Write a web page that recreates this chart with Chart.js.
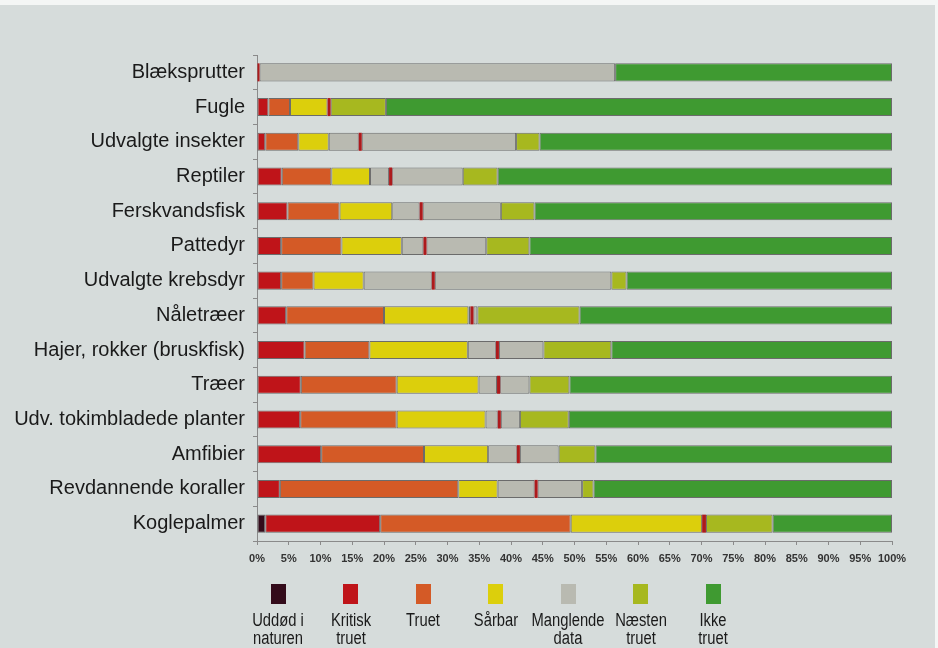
<!DOCTYPE html>
<html>
<head>
<meta charset="utf-8">
<script src="https://cdn.jsdelivr.net/npm/chart.js@4/dist/chart.umd.min.js"></script>
<style>
    html, body { margin: 0; padding: 0; background: #f4f6f5; }
    #page { position: absolute; left: 0; top: 5px; width: 935px; height: 643px; background: #d6dcdb; }
    #wrap { position: absolute; left: 0; top: 0; width: 938px; height: 648px; }
    #legend { position: absolute; left: 0; top: 0; width: 938px; height: 648px; pointer-events: none; }
    .item { position: absolute; top: 584px; width: 110px; margin-left: -55px; text-align: center;
            font-family: 'Liberation Sans', Arial, sans-serif; font-size: 18px; line-height: 18px; color: #1a1a1a; }
    .item .txt { transform: scaleX(0.82); }
    .box { width: 15px; height: 20px; margin: 0 auto 7px auto; }
</style>
</head>
<body>
<div id="page"></div>
<div id="wrap"><canvas id="chart" width="938" height="648"></canvas></div>
<div id="legend"></div>
<script>
    // Kategorier (oppefra og ned)
    const categories = [
        'Blæksprutter', 'Fugle', 'Udvalgte insekter', 'Reptiler', 'Ferskvandsfisk', 'Pattedyr',
        'Udvalgte krebsdyr', 'Nåletræer', 'Hajer, rokker (bruskfisk)', 'Træer',
        'Udv. tokimbladede planter', 'Amfibier', 'Revdannende koraller', 'Koglepalmer'
    ];

    // Andele i procent for hvert segment
    const uddoed     = [0, 0, 0, 0, 0, 0, 0, 0, 0, 0, 0, 0, 0, 1.3];
    const kritisk    = [0, 1.8, 1.3, 3.9, 4.8, 3.8, 3.8, 4.6, 7.5, 6.9, 6.8, 10.1, 3.6, 18.1];
    const truet      = [0, 3.4, 5.2, 7.8, 8.2, 9.5, 5.1, 15.4, 10.2, 15.1, 15.2, 16.2, 28.1, 30.0];
    const saarbar    = [0, 5.9, 4.8, 6.1, 8.3, 9.5, 7.9, 13.3, 15.5, 12.9, 14.0, 10.1, 6.2, 20.7];
    const mangler1   = [0, 0, 4.7, 3.0, 4.3, 3.4, 10.7, 0.3, 4.4, 2.9, 1.9, 4.5, 5.8, 0];
    const markoer    = [0.4, 0.5, 0.5, 0.5, 0.5, 0.5, 0.5, 0.5, 0.5, 0.5, 0.5, 0.5, 0.5, 0.6];
    const mangler2   = [56.0, 0, 24.3, 11.1, 12.3, 9.4, 27.8, 0.6, 7.0, 4.6, 3.0, 6.1, 7.0, 0];
    const naesten    = [0, 8.7, 3.7, 5.5, 5.3, 6.8, 2.4, 16.1, 10.7, 6.3, 7.7, 5.8, 1.8, 10.5];
    const ikke       = [43.6, 79.7, 55.5, 62.1, 56.3, 57.1, 41.8, 49.2, 44.2, 50.8, 50.9, 46.7, 47.0, 18.8];

    const xTicks = [0, 5, 10, 15, 20, 25, 30, 35, 40, 45, 50, 55, 60, 65, 70, 75, 80, 85, 90, 95, 100];

    const legendLabels = ['Uddød i\nnaturen', 'Kritisk\ntruet', 'Truet', 'Sårbar', 'Manglende\ndata', 'Næsten\ntruet', 'Ikke\ntruet'];
    const legendColors = ['#330b1a', '#bf1419', '#d45a26', '#dccf0c', '#b9bab1', '#a7b81f', '#3f9a31'];
    const markerColor = '#ad1a1c';

    const edge = '#6b6b6b';

    function ds(label, data, color, border) {
        return {
            label: label,
            data: data,
            backgroundColor: color,
            borderColor: edge,
            borderWidth: border,
            borderSkipped: false,
            categoryPercentage: 1,
            barPercentage: 0.52
        };
    }

    const datasets = [
        ds('Uddød i naturen', uddoed, legendColors[0], 1),
        ds('Kritisk truet', kritisk, legendColors[1], 1),
        ds('Truet', truet, legendColors[2], 1),
        ds('Sårbar', saarbar, legendColors[3], 1),
        ds('Manglende data', mangler1, legendColors[4], 1),
        ds('Markør', markoer, markerColor, 0),
        ds('Manglende data (2)', mangler2, legendColors[4], 1),
        ds('Næsten truet', naesten, legendColors[5], 1),
        ds('Ikke truet', ikke, legendColors[6], 1)
    ];

    const ctx = document.getElementById('chart').getContext('2d');
    new Chart(ctx, {
        type: 'bar',
        data: { labels: categories, datasets: datasets },
        options: {
            indexAxis: 'y',
            responsive: false,
            animation: false,
            layout: { padding: { left: 0, right: 46, top: 55, bottom: 77 } },
            plugins: { legend: { display: false }, tooltip: { enabled: false } },
            scales: {
                x: {
                    stacked: true,
                    min: 0,
                    max: 100,
                    afterFit: function(scale) { scale.height = 30; },
                    afterBuildTicks: function(scale) { scale.ticks = xTicks.map(v => ({ value: v })); },
                    ticks: {
                        callback: v => v + '%',
                        color: '#333',
                        padding: 7,
                        maxRotation: 0,
                        autoSkip: false,
                        font: { family: "'Liberation Sans', Arial", size: 11, weight: 'bold' }
                    },
                    grid: { drawOnChartArea: false, tickLength: 4, color: '#8a8a8a' },
                    border: { color: '#8a8a8a' }
                },
                y: {
                    stacked: true,
                    afterFit: function(scale) { scale.width = 257; },
                    ticks: {
                        color: '#1a1a1a',
                        padding: 8,
                        font: { family: "'Liberation Sans', Arial", size: 20 }
                    },
                    grid: { drawOnChartArea: false, tickLength: 4, color: '#8a8a8a', offset: true },
                    border: { color: '#8a8a8a' }
                }
            }
        }
    });

    // Forklaring under grafen
    const legendEl = document.getElementById('legend');
    legendLabels.forEach((txt, i) => {
        const item = document.createElement('div');
        item.className = 'item';
        item.style.left = (278 + i * 72.5) + 'px';
        const box = document.createElement('div');
        box.className = 'box';
        box.style.background = legendColors[i];
        item.appendChild(box);
        txt.split('\n').forEach(line => {
            const d = document.createElement('div');
            d.className = 'txt';
            d.textContent = line;
            item.appendChild(d);
        });
        legendEl.appendChild(item);
    });
</script>
</body>
</html>
